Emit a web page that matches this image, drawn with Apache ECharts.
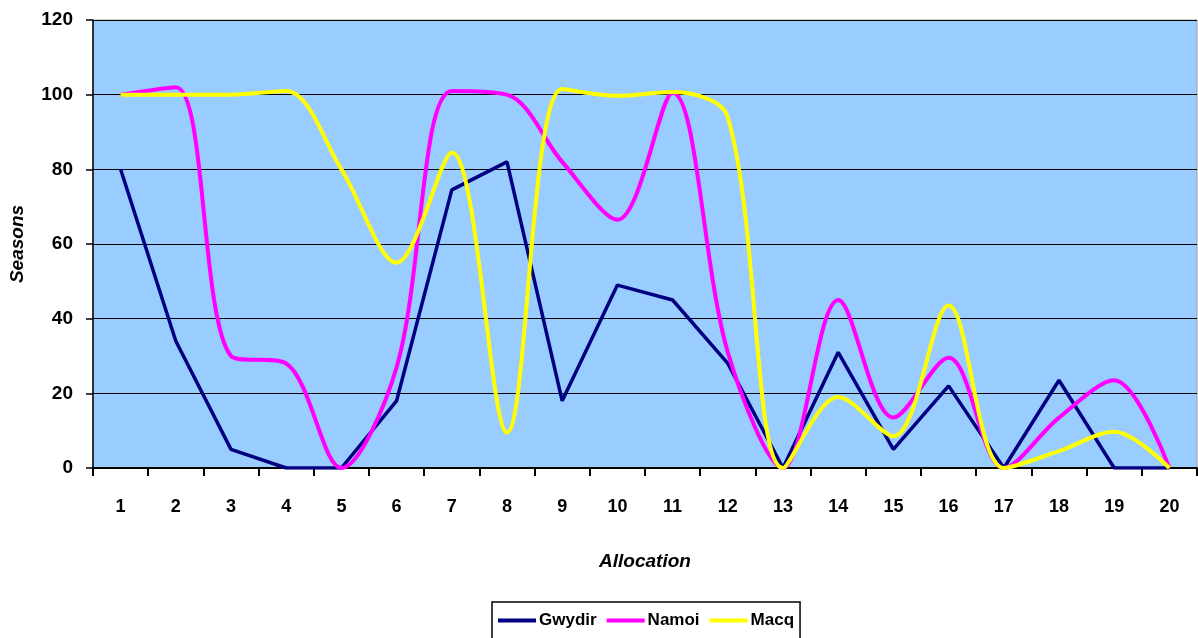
<!DOCTYPE html>
<html>
<head>
<meta charset="utf-8">
<script src="https://cdn.jsdelivr.net/npm/echarts@6/dist/echarts.min.js"></script>
<style>html,body{margin:0;padding:0;background:#fff}#c{width:1198px;height:638px}</style>
</head>
<body>
<div id="c"></div>
<script>
var categories = ['1','2','3','4','5','6','7','8','9','10','11','12','13','14','15','16','17','18','19','20'];
var gwydir = [80, 34, 5, 0, 0, 18, 74.5, 82, 18, 49, 45, 28, 0, 31, 5, 22, 0, 23.5, 0, 0];
var namoi  = [100, 102, 30, 28, 0, 27, 101, 100, 82, 66.5, 100.5, 31, 0, 45, 13.5, 29.5, 0, 13.5, 23.5, 0];
var macq   = [100, 100, 100, 101, 80, 55, 84.5, 9.5, 101.5, 99.7, 100.7, 94, 0, 19, 8.5, 43.5, 0, 4.5, 9.7, 0];
var yTicks = {min: 0, max: 120, interval: 20};

var chart = echarts.init(document.getElementById('c'), null, {renderer: 'canvas'});
var font = 'Liberation Sans, Arial, sans-serif';
chart.setOption({
  animation: false,
  grid: {left: 93, top: 20, right: 1, bottom: 170, containLabel: false, outerBoundsMode: 'none',
         show: true, backgroundColor: '#99CCFF', borderColor: '#a0a0a0', borderWidth: 1},
  legend: {
    left: 492, top: 602, width: 310,
    data: ['Gwydir', 'Namoi', 'Macq'],
    icon: 'rect', itemWidth: 38, itemHeight: 4, itemGap: 10,
    padding: [10, 6, 10, 6],
    borderColor: '#000', borderWidth: 1.5,
    textStyle: {fontFamily: font, fontWeight: 'bold', fontSize: 17, color: '#000', padding: [0, 0, 0, -2]}
  },
  xAxis: {
    type: 'category', data: categories, boundaryGap: true,
    name: 'Allocation', nameLocation: 'middle', nameGap: 84,
    nameTextStyle: {fontFamily: font, fontWeight: 'bold', fontStyle: 'italic', fontSize: 19, color: '#000'},
    axisLine: {lineStyle: {color: '#000', width: 2}},
    axisTick: {show: true, inside: false, length: 8, lineStyle: {color: '#000', width: 2}},
    axisLabel: {fontFamily: font, fontWeight: 'bold', fontSize: 18, color: '#000', margin: 30}
  },
  yAxis: {
    type: 'value', min: yTicks.min, max: yTicks.max, interval: yTicks.interval,
    name: 'Seasons', nameLocation: 'middle', nameGap: 66, nameRotate: 90,
    nameTextStyle: {fontFamily: font, fontWeight: 'bold', fontStyle: 'italic', fontSize: 19, color: '#000'},
    axisLine: {show: true, lineStyle: {color: '#000', width: 1.5}},
    axisTick: {show: true, length: 7, lineStyle: {color: '#000', width: 1.5}},
    axisLabel: {fontFamily: font, fontWeight: 'bold', fontSize: 19, color: '#000', margin: 20},
    splitLine: {show: true, lineStyle: {color: '#000', width: 1}}
  },
  series: [
    {name: 'Gwydir', type: 'line', data: gwydir, smooth: false, showSymbol: false, symbol: 'none', clip: true,
     lineStyle: {color: '#000080', width: 3.5}, itemStyle: {color: '#000080'}},
    {name: 'Namoi', type: 'line', data: namoi, smooth: 0.33, showSymbol: false, symbol: 'none', clip: true,
     lineStyle: {color: '#FF00FF', width: 4}, itemStyle: {color: '#FF00FF'}},
    {name: 'Macq', type: 'line', data: macq, smooth: 0.33, showSymbol: false, symbol: 'none', clip: true,
     lineStyle: {color: '#FFFF00', width: 4}, itemStyle: {color: '#FFFF00'}}
  ]
});
</script>
</body>
</html>
